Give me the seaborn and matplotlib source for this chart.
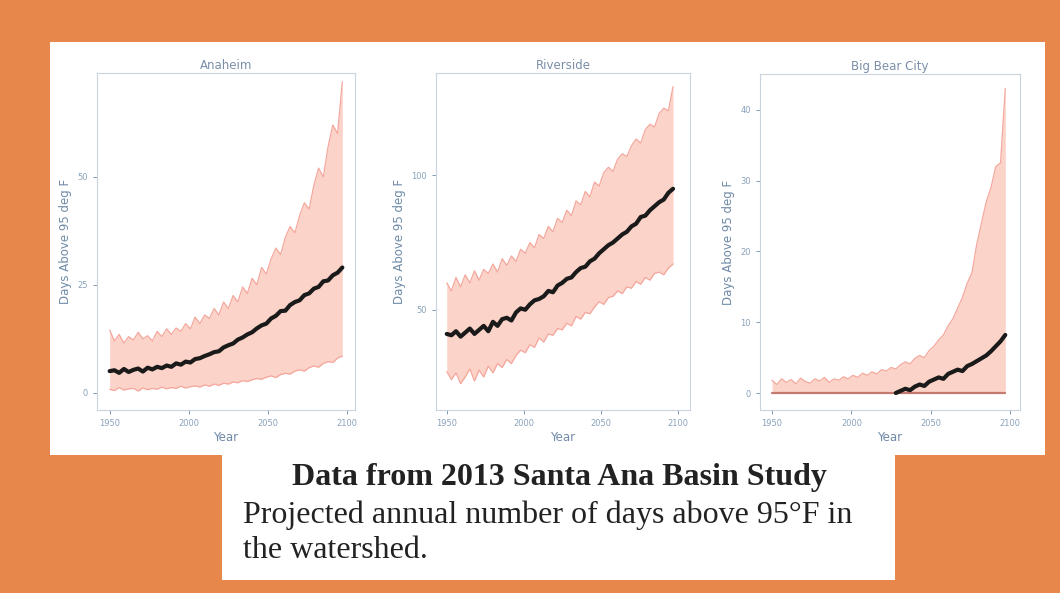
import matplotlib
matplotlib.use("Agg")
import matplotlib.pyplot as plt
import numpy as np
import pandas as pd
import seaborn as sns
from matplotlib.patches import Rectangle

# one value every 3 years, 1950 .. 2097
years = list(range(1950, 2100, 3))

anaheim_med = [5.0, 5.2, 4.6, 5.5, 4.8, 5.3, 5.6, 4.9, 5.8, 5.4, 6.0, 5.7, 6.3, 6.0, 6.8, 6.5, 7.2,
               7.0, 7.8, 8.0, 8.5, 8.9, 9.4, 9.6, 10.5, 11.0, 11.4, 12.3, 12.8, 13.5, 14.0, 14.9,
               15.6, 16.0, 17.2, 17.8, 18.9, 19.0, 20.3, 21.0, 21.4, 22.6, 23.0, 24.1, 24.5, 25.8,
               26.0, 27.2, 27.8, 29.0]
anaheim_hi = [14.5, 12.0, 13.5, 11.5, 13.0, 12.2, 14.0, 12.5, 13.2, 12.0, 14.2, 13.0, 14.8, 13.5,
              15.0, 14.2, 16.0, 14.8, 17.5, 16.0, 18.0, 17.2, 19.5, 18.0, 21.0, 19.5, 22.5, 21.0,
              24.5, 23.0, 26.5, 25.0, 29.0, 27.5, 31.0, 33.5, 32.0, 36.0, 38.5, 37.0, 41.0, 44.0,
              42.5, 48.0, 52.0, 50.0, 57.0, 62.0, 60.0, 72.0]
anaheim_lo = [0.8, 0.5, 1.2, 0.6, 0.9, 1.0, 0.4, 1.1, 0.7, 1.0, 0.8, 1.3, 0.9, 1.2, 1.0, 1.5, 1.1,
              1.4, 1.6, 1.3, 1.8, 1.5, 2.0, 1.7, 2.2, 2.0, 2.5, 2.3, 2.8, 2.6, 3.0, 3.3, 3.1, 3.6,
              3.9, 3.5, 4.2, 4.5, 4.3, 5.0, 5.3, 5.0, 5.8, 6.2, 5.9, 6.8, 7.2, 7.0, 8.0, 8.5]

riverside_med = [41.0, 40.5, 42.0, 40.0, 41.5, 43.0, 41.0, 42.5, 44.0, 42.0, 45.5, 44.0, 46.5,
                 47.0, 46.0, 49.0, 50.5, 50.0, 52.0, 53.5, 54.0, 55.0, 57.0, 56.5, 59.0, 60.0,
                 61.5, 62.0, 64.0, 65.5, 66.0, 68.0, 69.0, 71.0, 72.5, 74.0, 75.0, 76.5, 78.0,
                 79.0, 81.0, 82.0, 84.5, 85.0, 87.0, 88.5, 90.0, 91.0, 93.5, 95.0]
riverside_hi = [60.0, 57.0, 62.0, 58.5, 63.0, 60.0, 64.5, 61.0, 65.0, 63.5, 67.0, 64.0, 69.0,
                66.5, 70.0, 68.0, 72.5, 71.0, 75.0, 73.0, 78.0, 76.5, 81.0, 79.0, 84.0, 82.5,
                87.0, 85.0, 90.5, 89.0, 94.0, 92.0, 97.5, 96.0, 101.0, 103.0, 101.5, 106.0,
                108.0, 107.0, 111.0, 113.5, 112.0, 117.0, 119.0, 118.0, 123.0, 125.0, 124.0, 133.0]
riverside_lo = [27.0, 24.0, 26.5, 22.5, 25.0, 28.0, 23.5, 27.5, 25.0, 29.0, 26.5, 30.0, 28.5,
                31.5, 30.0, 33.0, 35.0, 34.0, 37.0, 36.0, 39.5, 38.0, 41.0, 40.5, 43.0, 42.5,
                45.0, 44.0, 47.5, 46.5, 49.0, 48.5, 51.0, 53.0, 52.0, 54.5, 55.0, 57.0, 56.0,
                58.5, 58.0, 60.5, 59.5, 62.0, 61.0, 63.5, 64.0, 63.0, 65.5, 67.0]

bigbear_med = [0.0, 0.0, 0.0, 0.0, 0.0, 0.0, 0.0, 0.0, 0.0, 0.0, 0.0, 0.0, 0.0, 0.0, 0.0, 0.0,
               0.0, 0.0, 0.0, 0.0, 0.0, 0.0, 0.0, 0.0, 0.0, 0.0, 0.0, 0.3, 0.6, 0.4, 0.9, 1.2,
               1.0, 1.6, 1.9, 2.2, 2.0, 2.7, 3.0, 3.3, 3.1, 3.8, 4.1, 4.5, 4.9, 5.3, 5.9, 6.6,
               7.3, 8.2]
bigbear_hi = [1.8, 1.2, 2.0, 1.5, 1.9, 1.3, 2.1, 1.6, 1.4, 2.0, 1.7, 2.2, 1.5, 2.0, 1.8, 2.3,
              2.0, 2.5, 2.2, 2.8, 2.5, 3.0, 2.7, 3.3, 3.1, 3.6, 3.4, 4.0, 4.4, 4.1, 4.9, 5.3,
              5.0, 6.0, 6.6, 7.5, 8.2, 9.5, 10.5, 12.0, 13.5, 15.5, 17.0, 21.0, 24.0, 27.0,
              29.0, 32.0, 32.5, 43.0]
bigbear_lo = [0.0] * 50

cities = ["Anaheim", "Riverside", "Big Bear City"]
medians = [anaheim_med, riverside_med, bigbear_med]
highs = [anaheim_hi, riverside_hi, bigbear_hi]
lows = [anaheim_lo, riverside_lo, bigbear_lo]
yticks = [[0, 25, 50], [50, 100], [0, 10, 20, 30, 40]]
ylims = [(-4, 74), (12.7, 138), (-2.4, 45)]
xlims = [(1942, 2105), (1943, 2108), (1942.4, 2106.3)]
# axes boxes in figure fractions
boxes = [[0.0915, 0.3086, 0.2434, 0.568],
         [0.4113, 0.3086, 0.2396, 0.568],
         [0.7170, 0.3086, 0.2453, 0.566]]

sns.set_style("white")
plt.rcParams["font.family"] = ["DejaVu Sans"]

orange = "#e8874c"
band_fill = "#fbd3c8"
band_edge = "#f4a79c"
axis_col = "#c9d5de"
label_col = "#6f8aa8"

fig = plt.figure(figsize=(10.6, 5.93), dpi=100, facecolor=orange)

# white card behind the charts and the caption box
fig.patches.append(Rectangle((50 / 1060, 1 - 455 / 593), 995 / 1060, 413 / 593,
                             transform=fig.transFigure, facecolor="white", edgecolor="none", zorder=-2))
fig.patches.append(Rectangle((222 / 1060, 1 - 580 / 593), 673 / 1060, 135 / 593,
                             transform=fig.transFigure, facecolor="white", edgecolor="none", zorder=-2))

for i, city in enumerate(cities):
    df = pd.DataFrame({"Year": years, "med": medians[i], "hi": highs[i], "lo": lows[i]})
    ax = fig.add_axes(boxes[i])
    ax.set_facecolor("white")
    ax.fill_between(df["Year"], df["lo"], df["hi"], color=band_fill, linewidth=0, zorder=1)
    sns.lineplot(data=df, x="Year", y="hi", ax=ax, color=band_edge, linewidth=0.9, zorder=2)
    lo_col = "#c47a70" if i == 2 else band_edge
    lo_lw = 1.6 if i == 2 else 0.9
    sns.lineplot(data=df, x="Year", y="lo", ax=ax, color=lo_col, linewidth=lo_lw, zorder=2)
    # median: Big Bear stays at zero until ~2030, only the non-zero part shows in black
    med = df if i != 2 else df[df.index >= 26]
    sns.lineplot(data=med, x="Year", y="med", ax=ax, color="#1a1a1a", linewidth=3.0, zorder=3)
    ax.set_xlim(*xlims[i])
    ax.set_ylim(*ylims[i])
    ax.set_xticks([1950, 2000, 2050, 2100])
    ax.set_yticks(yticks[i])
    ax.tick_params(axis="both", length=3, width=0.6, color=label_col, labelsize=6,
                   labelcolor="#8aa2bb", direction="out", bottom=True, left=True)
    for side in ["top", "right", "bottom", "left"]:
        ax.spines[side].set_color(axis_col)
        ax.spines[side].set_linewidth(0.8)
    ax.set_title(city, fontsize=8.5, color="#7a8ea8", pad=3)
    ax.set_xlabel("Year", fontsize=8.5, color=label_col, labelpad=2)
    ax.set_ylabel("Days Above 95 deg F", fontsize=8.5, color=label_col, labelpad=4)

fig.text(0.528, 0.194, "Data from 2013 Santa Ana Basin Study", ha="center", va="center",
         fontsize=23, fontweight="bold", family="Liberation Serif", color="#222222")
fig.text(0.229, 0.131, "Projected annual number of days above 95\u00b0F in", ha="left",
         va="center", fontsize=23, family="Liberation Serif", color="#222222")
fig.text(0.229, 0.072, "the watershed.", ha="left", va="center", fontsize=23,
         family="Liberation Serif", color="#222222")

fig.savefig("out.png", dpi=100, facecolor=orange)
